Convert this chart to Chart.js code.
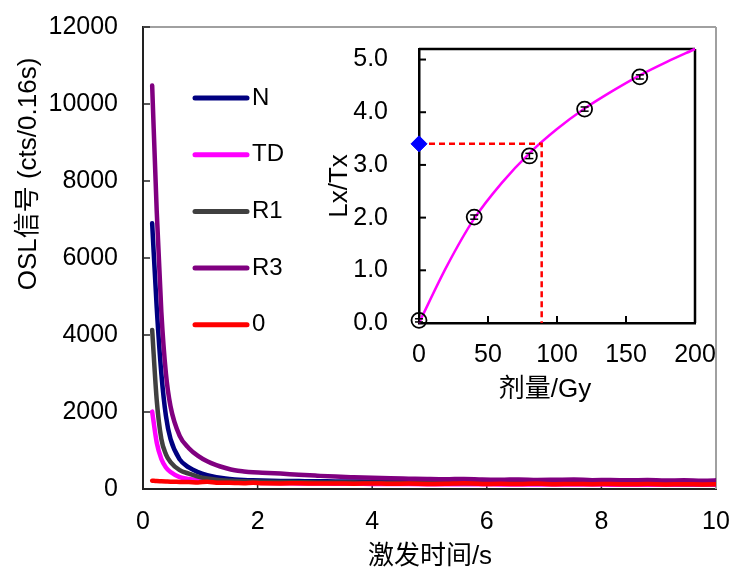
<!DOCTYPE html>
<html lang="zh">
<head>
<meta charset="UTF-8">
<title>OSL decay curves</title>
<style>
    body { margin: 0; background: #fff; }
    #wrap { position: relative; width: 732px; height: 572px; }
    #main { position: absolute; left: 0; top: 0; }
    #inset { position: absolute; left: 320px; top: 30px; }
</style>
</head>
<body>
<div id="wrap">
    <canvas id="main" width="732" height="572"></canvas>
    <canvas id="inset" width="400" height="385"></canvas>
</div>

<script src="https://cdn.jsdelivr.net/npm/chart.js"></script>
<script>
// stimulation time (s)
const times = [0.16, 0.24, 0.32, 0.40, 0.48, 0.64, 0.80, 0.96, 1.12, 1.28,
               1.44, 1.60, 1.76, 1.92, 2.08, 2.40, 2.72, 3.04, 3.36, 3.68,
               4.00, 4.32, 4.64, 4.96, 5.28, 5.60, 5.92, 6.24, 6.56, 6.88,
               7.20, 7.52, 7.84, 8.16, 8.48, 8.80, 9.12, 9.44, 9.76, 10.08];

// OSL signal (cts/0.16s)
const sigN  = [6900, 4700, 3000, 1900, 1300, 770, 560, 440, 360, 305,
               272, 250, 235, 225, 218, 210, 205, 200, 198, 195,
               190, 192, 186, 188, 182, 180, 184, 178, 175, 178,
               172, 170, 168, 170, 165, 162, 165, 160, 158, 160];
const sigTD = [2010, 1200, 780, 560, 440, 310, 258, 228, 208, 194,
               183, 175, 168, 162, 158, 150, 146, 142, 138, 136,
               132, 130, 128, 126, 124, 122, 124, 120, 118, 119,
               116, 115, 116, 113, 112, 113, 110, 109, 110, 108];
const sigR1 = [4130, 2300, 1300, 900, 700, 490, 400, 320, 272, 242,
               222, 210, 200, 195, 190, 182, 178, 172, 170, 166,
               162, 160, 158, 155, 152, 150, 152, 148, 145, 146,
               142, 140, 142, 138, 136, 138, 134, 132, 133, 130];
const sigR3 = [10480, 7200, 4600, 3000, 2150, 1380, 1060, 860, 720, 620,
               545, 485, 455, 435, 425, 400, 370, 345, 322, 305,
               290, 278, 268, 258, 252, 262, 245, 240, 250, 236,
               240, 245, 230, 235, 226, 232, 222, 226, 216, 228];
const sig0  = [215, 205, 200, 195, 190, 185, 180, 172, 190, 165,
               160, 158, 150, 160, 148, 145, 150, 140, 142, 138,
               145, 135, 140, 132, 138, 150, 130, 135, 128, 140,
               126, 132, 125, 130, 122, 128, 120, 125, 118, 122];

const seriesNames  = ['N', 'TD', 'R1', 'R3', '0'];
const seriesValues = [sigN, sigTD, sigR1, sigR3, sig0];
const seriesColors = ['#000080', '#ff00ff', '#404040', '#800080', '#ff0000'];

// inset: dose response
const doses    = [0, 40, 80, 120, 160];
const lxtx     = [0.05, 2.01, 3.17, 4.06, 4.67];
const lxtxErr  = [0.03, 0.04, 0.05, 0.04, 0.04];
const fitDose  = [0, 20, 40, 60, 80, 100, 120, 140, 160, 180, 200];
const fitLxTx  = [0, 1.07, 1.98, 2.66, 3.22, 3.68, 4.07, 4.40, 4.70, 4.96, 5.2];
const natLxTx  = 3.4;
const deDose   = 88.9;

const FONT = '"Liberation Sans", Arial, "Noto Sans CJK SC", sans-serif';

function line(ctx, x1, y1, x2, y2) {
    ctx.beginPath();
    ctx.moveTo(x1, y1);
    ctx.lineTo(x2, y2);
    ctx.stroke();
}

// keep tick labels from pushing the plot area around
function noOverflow(scale) {
    scale.paddingTop = 0;
    scale.paddingBottom = 0;
    scale.paddingLeft = 0;
    scale.paddingRight = 0;
}

// Excel style frame: ticks pointing inwards, extra top/right lines
function framePlugin(id, frameColor, frameWidth, tickLen, tickColor, tickWidth) {
    return {
        id: id,
        beforeDatasetsDraw(chart) {
            const {ctx, chartArea: a, scales: {x, y}} = chart;
            ctx.save();
            ctx.strokeStyle = frameColor;
            ctx.lineWidth = frameWidth;
            line(ctx, a.left, a.top, a.right, a.top);
            line(ctx, a.right, a.top, a.right, a.bottom);
            ctx.strokeStyle = tickColor;
            ctx.lineWidth = tickWidth;
            x.ticks.forEach(t => {
                const px = x.getPixelForValue(t.value);
                if (px <= a.left + 1 || px >= a.right - 1) return;
                line(ctx, px, a.bottom, px, a.bottom - tickLen);
            });
            y.ticks.forEach(t => {
                const py = y.getPixelForValue(t.value);
                if (py >= a.bottom - 1) return;
                line(ctx, a.left, py, a.left + tickLen, py);
            });
            ctx.restore();
        }
    };
}

function drawText(ctx, text, x, y, size, rotate) {
    ctx.save();
    ctx.translate(x, y);
    if (rotate) ctx.rotate(-Math.PI / 2);
    ctx.font = size + 'px ' + FONT;
    ctx.fillStyle = '#000';
    ctx.textAlign = 'center';
    ctx.textBaseline = 'middle';
    ctx.fillText(text, 0, 0);
    ctx.restore();
}

const mainDecor = {
    id: 'mainDecor',
    afterDraw(chart) {
        const ctx = chart.ctx;
        drawText(ctx, 'OSL信号 (cts/0.16s)', 29, 174, 26, true);
        drawText(ctx, '激发时间/s', 430, 557, 26, false);
        // legend
        ctx.save();
        ctx.lineCap = 'round';
        ctx.lineWidth = 5;
        ctx.font = '24px ' + FONT;
        ctx.textAlign = 'left';
        ctx.textBaseline = 'middle';
        seriesNames.forEach((name, i) => {
            const ly = 98 + i * 56.7;
            ctx.strokeStyle = seriesColors[i];
            line(ctx, 195, ly, 247, ly);
            ctx.fillStyle = '#000';
            ctx.fillText(name, 252, ly);
        });
        ctx.restore();
    }
};

new Chart(document.getElementById('main'), {
    type: 'line',
    data: {
        datasets: seriesNames.map((name, i) => ({
            label: name,
            data: times.map((t, k) => ({x: t, y: seriesValues[i][k]})),
            borderColor: seriesColors[i],
            backgroundColor: seriesColors[i],
            borderWidth: 4.5,
            borderCapStyle: 'round',
            borderJoinStyle: 'round',
            pointRadius: 0,
            cubicInterpolationMode: 'monotone',
            order: seriesNames.length - 1 - i
        }))
    },
    options: {
        responsive: false,
        animation: false,
        devicePixelRatio: 1,
        layout: { padding: { left: 0, top: 27, right: 16, bottom: 0 } },
        plugins: { legend: { display: false }, tooltip: { enabled: false } },
        scales: {
            x: {
                type: 'linear',
                min: 0, max: 10,
                grid: { display: false, drawTicks: false },
                border: { display: true, color: '#222', width: 2 },
                ticks: { stepSize: 2, padding: 18, color: '#000', font: { size: 25, family: FONT } },
                afterFit(scale) { scale.height = 83; noOverflow(scale); }
            },
            y: {
                min: 0, max: 12000,
                grid: { display: false, drawTicks: false },
                border: { display: true, color: '#222', width: 2 },
                ticks: {
                    stepSize: 2000, padding: 25, color: '#000', font: { size: 25, family: FONT },
                    callback: v => String(v)
                },
                afterFit(scale) { scale.width = 143; noOverflow(scale); }
            }
        }
    },
    plugins: [framePlugin('mainFrame', '#a0a0a0', 2, 7, '#222', 1.5), mainDecor]
});

const insetDecor = {
    id: 'insetDecor',
    afterDatasetsDraw(chart) {
        const {ctx, scales: {x, y}} = chart;
        ctx.save();
        ctx.strokeStyle = '#000';
        ctx.lineWidth = 1.5;
        doses.forEach((d, i) => {
            const px = x.getPixelForValue(d);
            const y1 = y.getPixelForValue(lxtx[i] - lxtxErr[i]);
            const y2 = y.getPixelForValue(lxtx[i] + lxtxErr[i]);
            line(ctx, px, y1, px, y2);
            line(ctx, px - 4, y1, px + 4, y1);
            line(ctx, px - 4, y2, px + 4, y2);
        });
        ctx.restore();
    },
    afterDraw(chart) {
        const ctx = chart.ctx;
        drawText(ctx, 'Lx/Tx', 20, 156, 26, true);
        drawText(ctx, '剂量/Gy', 225, 360, 26, false);
    }
};

new Chart(document.getElementById('inset'), {
    type: 'scatter',
    data: {
        datasets: [
            {
                label: 'natural',
                data: [{x: 0, y: natLxTx}],
                pointStyle: 'rectRot',
                pointRadius: 8,
                backgroundColor: '#0000ff',
                borderColor: '#0000ff',
                borderWidth: 1,
                clip: false
            },
            {
                label: 'regenerated',
                data: doses.map((d, i) => ({x: d, y: lxtx[i]})),
                pointStyle: 'circle',
                pointRadius: 7.5,
                backgroundColor: 'rgba(0,0,0,0)',
                borderColor: '#000',
                borderWidth: 1.8,
                clip: false
            },
            {
                label: 'De',
                data: [{x: 0, y: natLxTx}, {x: deDose, y: natLxTx}, {x: deDose, y: 0}],
                showLine: true,
                borderColor: '#ff0000',
                borderWidth: 2.5,
                borderDash: [6, 4],
                pointRadius: 0
            },
            {
                label: 'fit',
                data: fitDose.map((d, i) => ({x: d, y: fitLxTx[i]})),
                showLine: true,
                borderColor: '#ff00ff',
                borderWidth: 2.5,
                pointRadius: 0,
                cubicInterpolationMode: 'monotone',
                clip: false
            }
        ]
    },
    options: {
        responsive: false,
        animation: false,
        devicePixelRatio: 1,
        layout: { padding: { left: 0, top: 19, right: 25, bottom: 0 } },
        plugins: { legend: { display: false }, tooltip: { enabled: false } },
        scales: {
            x: {
                type: 'linear',
                min: 0, max: 200,
                grid: { display: false, drawTicks: false },
                border: { display: true, color: '#000', width: 2.5 },
                ticks: { stepSize: 50, padding: 17, color: '#000', font: { size: 25, family: FONT } },
                afterFit(scale) { scale.height = 92; noOverflow(scale); }
            },
            y: {
                min: 0, max: 5.2,
                grid: { display: false, drawTicks: false },
                border: { display: true, color: '#000', width: 2.5 },
                ticks: {
                    stepSize: 1, includeBounds: false, padding: 31, color: '#000',
                    font: { size: 25, family: FONT },
                    callback: v => v.toFixed(1)
                },
                afterFit(scale) { scale.width = 99; noOverflow(scale); }
            }
        }
    },
    plugins: [framePlugin('insetFrame', '#000', 2.5, 7, '#000', 2), insetDecor]
});
</script>
</body>
</html>
